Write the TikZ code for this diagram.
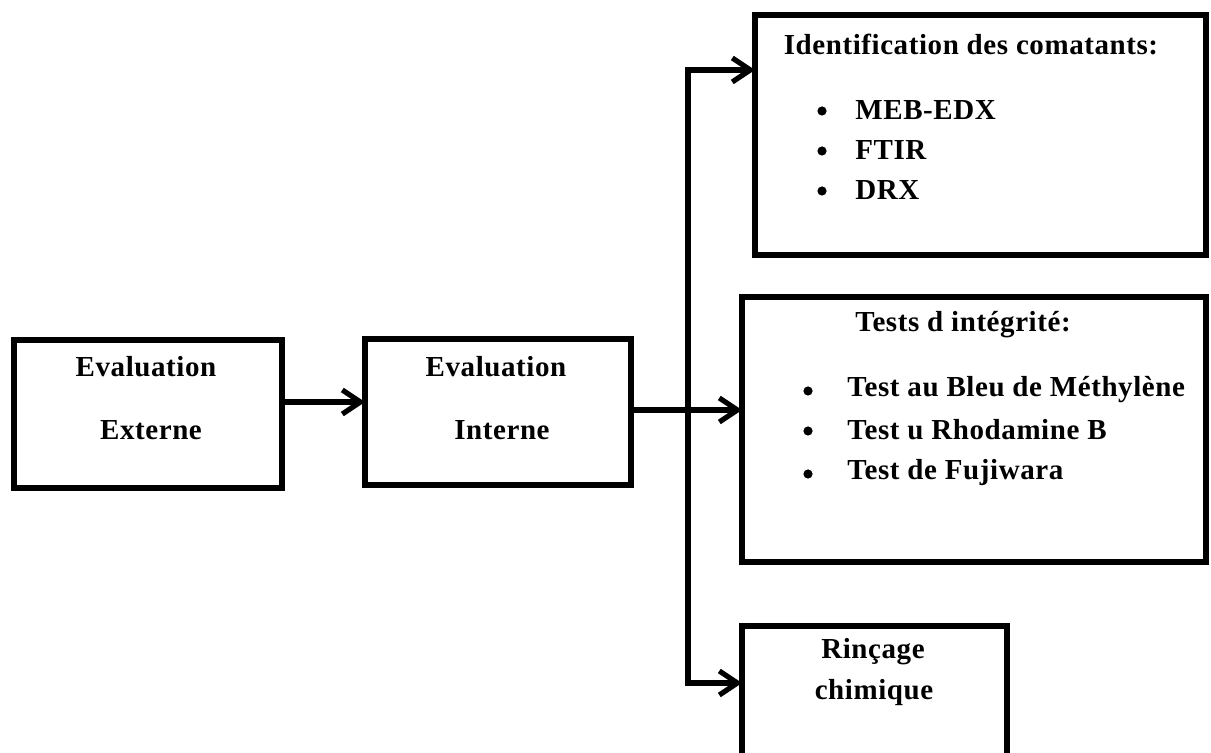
\documentclass[tikz,border=0pt]{standalone}
\usepackage{fontspec}
\setmainfont{Liberation Serif}[LetterSpace=2]
\usetikzlibrary{arrows.meta}
\begin{document}
\begin{tikzpicture}[x=0.5pt,y=-0.5pt,
  box/.style={draw, line width=2.6pt, rectangle, inner sep=0pt, outer sep=0pt},
  txt/.style={font=\bfseries\fontsize{14.5}{16}\selectfont, inner sep=0pt},
  itm/.style={txt, anchor=west},
  bul/.style={circle, fill, inner sep=0pt, minimum size=4.6pt},
  arr/.style={line width=2.6pt, -{Straight Barb[length=9pt,width=12pt,line width=2.6pt]}},
  lin/.style={line width=2.6pt, line cap=rect}]
\useasboundingbox (0,0) rectangle (1211,753);
\clip (0,0) rectangle (1211,753);
% boxes
\node[box, minimum width=134pt, minimum height=74pt] (ext) at (148,414) {};
\node[box, minimum width=133pt, minimum height=73pt] (int) at (498,412) {};
\node[box, minimum width=225.5pt, minimum height=120pt] (idn) at (980.5,135) {};
\node[box, minimum width=232pt, minimum height=132.5pt] (tst) at (974,429.5) {};
\node[box, minimum width=132.5pt, minimum height=87pt] (rin) at (874.5,713) {};
% texts
\node[txt] (t1) at (146,367) {Evaluation};
\node[txt] (t2) at (151,430) {Externe};
\node[txt] (t3) at (496,367) {Evaluation};
\node[txt] (t4) at (502,430) {Interne};
\node[txt] (t5) at (971,45) {Identification des comatants:};
\node[bul] (b1) at (822,111) {};
\node[bul] (b2) at (822,151) {};
\node[bul] (b3) at (822,191) {};
\node[itm] (i1) at (855,110) {MEB-EDX};
\node[itm] (i2) at (855,150) {FTIR};
\node[itm] (i3) at (855,190) {DRX};
\node[txt] (t6) at (963,325) {Tests d intégrité:};
\node[bul] (b4) at (808,391) {};
\node[bul] (b5) at (808,431) {};
\node[bul] (b6) at (808,474) {};
\node[itm] (i4) at (847,390) {Test au Bleu de Méthylène};
\node[itm] (i5) at (847,430) {Test u Rhodamine B};
\node[itm] (i6) at (847,473) {Test de Fujiwara};
\node[txt] (t7) at (873,652) {Rinçage};
\node[txt] (t8) at (874,693) {chimique};
% connectors
\coordinate (j) at (688,410);
\coordinate (a1) at (0,402);
\draw[arr] (ext.east |- a1) -- (int.west |- a1);
\draw[lin] (int.east |- j) -- (j);
\draw[arr] (j) -- (tst.west |- j);
\coordinate (ja) at (688,70);
\coordinate (jb) at (688,683);
\draw[lin] (ja) -- (jb);
\draw[arr] (ja) -- (idn.west |- ja);
\draw[arr] (jb) -- (rin.west |- jb);
\end{tikzpicture}
\end{document}
